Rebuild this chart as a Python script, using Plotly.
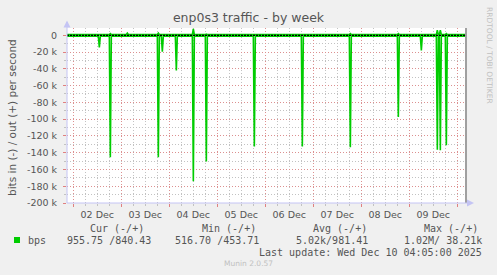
import pandas as pd
import plotly.graph_objects as go

# ---------------- data ----------------
x_start = "2025-12-01 20:50"
x_end = "2025-12-10 04:20"

baseline_in_bps = 955.75
baseline_out_bps = 840.43

spike_times = ["2025-12-02 13:00", "2025-12-02 18:30", "2025-12-03 03:00",
               "2025-12-03 18:30", "2025-12-03 20:30", "2025-12-04 03:30",
               "2025-12-04 12:00", "2025-12-04 18:30", "2025-12-05 18:30",
               "2025-12-06 18:30", "2025-12-07 18:30", "2025-12-08 18:30",
               "2025-12-09 06:00", "2025-12-09 14:00", "2025-12-09 15:30",
               "2025-12-09 18:30"]
spike_in_kbps = [14.5, 145.5, 1.0, 145.5, 19.5, 42.0, 174.0, 150.5, 132.5,
                 132.5, 133.5, 97.5, 18.0, 136.5, 137.0, 131.0]
spike_out_kbps = [0.9, 2.0, 2.5, 2.5, 0.9, 0.9, 7.5, 1.5, 0.9, 1.5, 2.0,
                  2.0, 0.9, 6.0, 6.0, 2.0]

y_tick_vals = [0, -20000, -40000, -60000, -80000, -100000, -120000,
               -140000, -160000, -180000, -200000]
y_tick_text = ["0", "-20 k", "-40 k", "-60 k", "-80 k", "-100 k", "-120 k",
               "-140 k", "-160 k", "-180 k", "-200 k"]

legend_headers = ["Cur (-/+)", "Min (-/+)", "Avg (-/+)", "Max (-/+)"]
legend_values = ["955.75 /840.43", "516.70 /453.71", "5.02k/981.41", "1.02M/ 38.21k"]
legend_label = "bps"
last_update = "Last update: Wed Dec 10 04:05:00 2025"
title_text = "enp0s3 traffic - by week"
y_title = "bits in (-) / out (+) per second"

# ---------------- build series ----------------
def build(base, sign, vals_k):
    xs = [pd.Timestamp(x_start)]
    ys = [sign * base]
    half = pd.Timedelta(minutes=30)
    for t, v in zip(spike_times, vals_k):
        tt = pd.Timestamp(t)
        xs += [tt - half, tt, tt + half]
        ys += [sign * base, sign * v * 1000, sign * base]
    xs.append(pd.Timestamp(x_end))
    ys.append(sign * base)
    return xs, ys

xi, yi = build(baseline_in_bps, -1, spike_in_kbps)
xo, yo = build(baseline_out_bps, 1, spike_out_kbps)

GREEN = "#00CC00"
fig = go.Figure()
fig.add_trace(go.Scatter(x=xi, y=yi, mode="lines", line=dict(color=GREEN, width=1.6),
                         hoverinfo="skip", showlegend=False))
fig.add_trace(go.Scatter(x=xo, y=yo, mode="lines", line=dict(color=GREEN, width=1.6),
                         hoverinfo="skip", showlegend=False))

# ---------------- layout ----------------
W, H = 497, 275
L, R, T, B = 67, 466, 28, 203

def px(x):
    return (x - L) / (R - L)

def py(y):
    return (B - y) / (B - T)

MAJ = "#DC9090"
MIN = "#C2C2C2"
AXC = "#C4C4F4"
TXT = "#555555"
FONT = "DejaVu Sans"
MONO = "DejaVu Sans Mono"

fig.update_layout(
    width=W, height=H,
    margin=dict(l=L, r=W - R, t=T, b=H - B, pad=0),
    paper_bgcolor="#F0F0F0", plot_bgcolor="#FFFFFF",
    title=dict(text=title_text, x=0.5, xref="container", xanchor="center",
               y=1 - 18 / H, yref="container", yanchor="middle",
               font=dict(family=FONT, size=12.5, color=TXT)),
    xaxis=dict(type="date", range=[x_start, x_end], tick0="2025-12-02",
               dtick=86400000, ticklabelmode="period", tickformat="%d %b",
               showgrid=True, gridcolor=MAJ, griddash="1px,2px", gridwidth=1,
               ticks="outside", ticklen=3, tickcolor="#E08080",
               showline=False, zeroline=False,
               tickfont=dict(family=FONT, size=9.5, color=TXT),
               minor=dict(dtick=6 * 3600000, showgrid=True, gridcolor=MIN,
                          griddash="1px,2px", ticks="outside", ticklen=2,
                          tickcolor=MIN)),
    yaxis=dict(range=[-200000, 8700], tickmode="array", tickvals=y_tick_vals,
               ticktext=y_tick_text, showgrid=True, gridcolor=MAJ,
               griddash="1px,2px", gridwidth=1, zeroline=False, showline=False,
               ticks="outside", ticklen=3, tickcolor="#E08080",
               ticklabelstandoff=4,
               tickfont=dict(family=FONT, size=9.5, color=TXT),
               minor=dict(tickmode="linear", tick0=0, dtick=10000, showgrid=True,
                          gridcolor=MIN, griddash="1px,2px", ticks="outside",
                          ticklen=2, tickcolor=MIN)),
)

shapes = []
shapes.append(dict(type="line", xref="paper", yref="y", x0=0, x1=1, y0=0, y1=0,
                   line=dict(color="#000000", width=1.2, dash="2px,1px"), layer="above"))
shapes.append(dict(type="line", xref="paper", yref="paper", x0=1, x1=1, y0=0, y1=1,
                   line=dict(color="#A0A0A0", width=2), layer="above"))
shapes.append(dict(type="line", xref="paper", yref="paper", x0=0, x1=0, y0=0, y1=py(22),
                   line=dict(color=AXC, width=1), layer="above"))
shapes.append(dict(type="line", xref="paper", yref="paper", x0=0, x1=px(471), y0=0, y1=0,
                   line=dict(color=AXC, width=1), layer="above"))
shapes.append(dict(type="path", xref="paper", yref="paper",
                   path=f"M {px(63.5)} {py(27.5)} L {px(70.5)} {py(27.5)} L {px(67)} {py(20.5)} Z",
                   fillcolor=AXC, line=dict(width=0), layer="above"))
shapes.append(dict(type="path", xref="paper", yref="paper",
                   path=f"M {px(467)} {py(199.5)} L {px(467)} {py(206.5)} L {px(474)} {py(203)} Z",
                   fillcolor=AXC, line=dict(width=0), layer="above"))
shapes.append(dict(type="rect", xref="paper", yref="paper",
                   x0=px(14), x1=px(20), y0=py(243), y1=py(237),
                   fillcolor=GREEN, line=dict(width=0)))
fig.update_layout(shapes=shapes)

ann = []
def add(text, x, y, anchor="left", size=10, family=MONO, color=TXT, angle=0):
    ann.append(dict(text=text, xref="paper", yref="paper", x=px(x), y=py(y),
                    xanchor=anchor, yanchor="middle", showarrow=False,
                    textangle=angle, borderpad=0,
                    font=dict(family=family, size=size, color=color)))

add(y_title, 12, 118, anchor="center", size=10.5, family=FONT, angle=-90)
add("RRDTOOL / TOBI OETIKER", 489, 55, anchor="center", size=7.5, family=FONT,
    color="#C0C0C0", angle=90)
header_x = [89, 200.5, 312, 422.5]
value_x = [66, 174, 295, 403]
for hx, h in zip(header_x, legend_headers):
    add(h, hx, 228)
add(legend_label, 26.5, 240)
for vx, v in zip(value_x, legend_values):
    add(v, vx, 240)
add(last_update, 483, 252, anchor="right")
add("Munin 2.0.57", 248, 263, anchor="center", size=7.5, family=FONT, color="#C0C0C0")
fig.update_layout(annotations=ann)

fig.write_html("out.html")
